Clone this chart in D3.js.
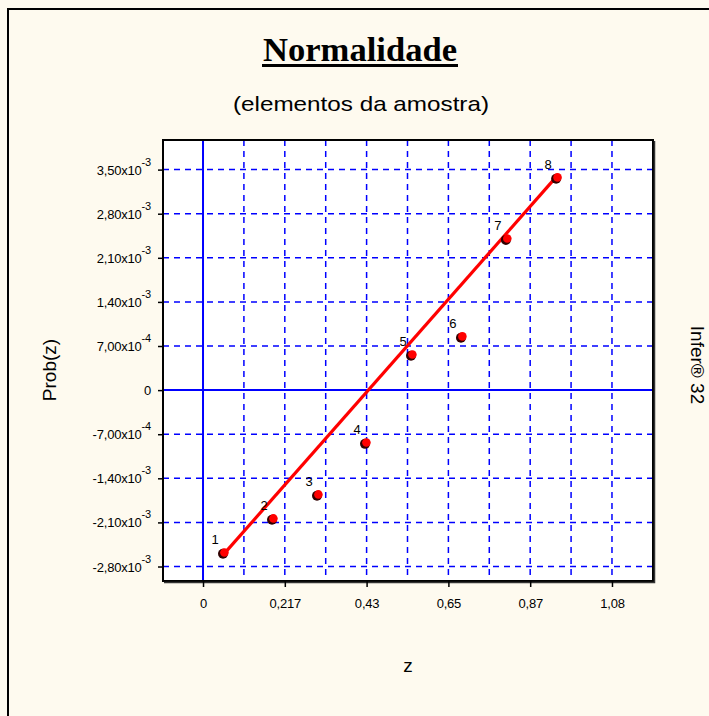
<!DOCTYPE html>
<html>
<head>
<meta charset="utf-8">
<script src="https://cdn.jsdelivr.net/npm/d3@7"></script>
<style>
html,body{margin:0;padding:0;background:#fefaef;}
svg{display:block;}
text{font-family:"Liberation Sans",Arial,sans-serif;fill:#000;}
</style>
</head>
<body>
<svg id="chart" width="709" height="716"></svg>
<script>
// ---- data ----
const pointIds = ["1","2","3","4","5","6","7","8"];
const zValues = [0.0556, 0.1854, 0.3046, 0.4318, 0.5536, 0.6860, 0.8050, 0.9380];
const probValues = [-0.002583, -0.002043, -0.001662, -0.000837, 0.000560, 0.000846, 0.002400, 0.003370];
const fitLineZ = [0.0556, 0.9380];
const fitLineProb = [-0.002600, 0.003400];
const xTickValues = [0, 0.21667, 0.43333, 0.65, 0.86667, 1.08333];
const xTickLabels = ["0", "0,217", "0,43", "0,65", "0,87", "1,08"];
const xMinorValues = [0.108333, 0.325, 0.541667, 0.758333, 0.975];
const yTickValues = [0.0035, 0.0028, 0.0021, 0.0014, 0.0007, 0, -0.0007, -0.0014, -0.0021, -0.0028];
const yTickMantissa = ["3,50x10", "2,80x10", "2,10x10", "1,40x10", "7,00x10", "0", "-7,00x10", "-1,40x10", "-2,10x10", "-2,80x10"];
const yTickExponent = ["-3", "-3", "-3", "-3", "-4", "", "-4", "-3", "-3", "-3"];

const svg = d3.select("#chart");
const W = 709, H = 716;
const plot = {left: 163, right: 653, top: 140, bottom: 581};

const x = d3.scaleLinear().domain([-0.106, 1.192]).range([plot.left, plot.right]);
const y = d3.scaleLinear().domain([-0.00303, 0.00397]).range([plot.bottom, plot.top]);

// background + outer frame
svg.append("rect").attr("width", W).attr("height", H).attr("fill", "#fefaef");
svg.append("path").attr("d", `M8,${H} L8,9 L${W},9`).attr("fill", "none")
  .attr("stroke", "#000").attr("stroke-width", 2);

// title
svg.append("text").attr("x", 360).attr("y", 61).attr("text-anchor", "middle")
  .style("font-family", "'Liberation Serif','Times New Roman',serif")
  .style("font-weight", "bold").style("font-size", "34px")
  .attr("textLength", 194).attr("lengthAdjust", "spacingAndGlyphs")
  .text("Normalidade");
svg.append("rect").attr("x", 262).attr("y", 64).attr("width", 196).attr("height", 3).attr("fill", "#000");

svg.append("text").attr("x", 361).attr("y", 111).attr("text-anchor", "middle")
  .style("font-size", "21px").attr("textLength", 256).attr("lengthAdjust", "spacingAndGlyphs")
  .text("(elementos da amostra)");

// plot area
svg.append("rect").attr("x", plot.left).attr("y", plot.top)
  .attr("width", plot.right - plot.left).attr("height", plot.bottom - plot.top)
  .attr("fill", "#ffffff");

const g = svg.append("g");
// vertical grid lines
const vGrid = xTickValues.concat(xMinorValues).filter(v => v !== 0);
g.selectAll("line.vg").data(vGrid).join("line").attr("class", "vg")
  .attr("x1", d => x(d)).attr("x2", d => x(d))
  .attr("y1", plot.top).attr("y2", plot.bottom)
  .attr("stroke", "#0000ff").attr("stroke-width", 1.5).attr("stroke-dasharray", "6,5");
// horizontal grid lines
g.selectAll("line.hg").data(yTickValues.filter(v => v !== 0)).join("line").attr("class", "hg")
  .attr("x1", plot.left).attr("x2", plot.right)
  .attr("y1", d => y(d)).attr("y2", d => y(d))
  .attr("stroke", "#0000ff").attr("stroke-width", 1.5).attr("stroke-dasharray", "6,5");
// zero lines
g.append("line").attr("x1", x(0)).attr("x2", x(0)).attr("y1", plot.top).attr("y2", plot.bottom)
  .attr("stroke", "#0000ff").attr("stroke-width", 2);
g.append("line").attr("x1", plot.left).attr("x2", plot.right).attr("y1", y(0)).attr("y2", y(0))
  .attr("stroke", "#0000ff").attr("stroke-width", 2);

// plot box border
svg.append("rect").attr("x", plot.left).attr("y", plot.top)
  .attr("width", plot.right - plot.left).attr("height", plot.bottom - plot.top)
  .attr("fill", "none").attr("stroke", "#000").attr("stroke-width", 2);
svg.append("path").attr("d", `M${plot.left+1},${plot.bottom+1.5} L${plot.right+1.5},${plot.bottom+1.5} L${plot.right+1.5},${plot.top+1}`)
  .attr("fill", "none").attr("stroke", "#333").attr("stroke-width", 1.5);

// x axis
const xAxis = d3.axisBottom(x).tickValues(xTickValues)
  .tickFormat((d, i) => xTickLabels[i]).tickSize(6).tickPadding(12);
const xa = svg.append("g").attr("transform", `translate(0,${plot.bottom})`).call(xAxis);
xa.select(".domain").remove();
xa.selectAll(".tick line").attr("stroke", "#000").attr("stroke-width", 1.5);
xa.selectAll(".tick text").style("font-size", "13px").style("font-family", "'Liberation Sans',Arial,sans-serif")
  .attr("fill", "#000").attr("letter-spacing", "-0.2");

// y axis
const yAxis = d3.axisLeft(y).tickValues(yTickValues).tickFormat("").tickSize(5);
const ya = svg.append("g").attr("transform", `translate(${plot.left},0)`).call(yAxis);
ya.select(".domain").remove();
ya.selectAll(".tick line").attr("stroke", "#000").attr("stroke-width", 1.5);
const yl = svg.append("g");
yTickValues.forEach((v, i) => {
  const t = yl.append("text").attr("x", 151).attr("y", y(v) + 5).attr("text-anchor", "end")
    .style("font-size", "13px").attr("letter-spacing", "-0.2");
  t.append("tspan").text(yTickMantissa[i]);
  if (yTickExponent[i]) {
    t.append("tspan").attr("dy", -9).style("font-size", "11px").text(yTickExponent[i]);
  }
});

// fit line
const line = d3.line().x(d => x(d[0])).y(d => y(d[1]));
svg.append("path").datum(fitLineZ.map((z, i) => [z, fitLineProb[i]]))
  .attr("d", line).attr("fill", "none").attr("stroke", "#ff0000").attr("stroke-width", 3.2);

// points
const pts = zValues.map((z, i) => ({z, p: probValues[i], id: pointIds[i]}));
svg.selectAll("circle.sh").data(pts).join("circle").attr("class", "sh")
  .attr("cx", d => x(d.z) - 1).attr("cy", d => y(d.p) + 1).attr("r", 5).attr("fill", "#300000");
svg.selectAll("circle.pt").data(pts).join("circle").attr("class", "pt")
  .attr("cx", d => x(d.z) + 0.4).attr("cy", d => y(d.p) - 0.4).attr("r", 4.3).attr("fill", "#ff0000");
svg.selectAll("text.lbl").data(pts).join("text").attr("class", "lbl")
  .attr("x", d => x(d.z) - 9).attr("y", d => y(d.p) - 9).attr("text-anchor", "middle")
  .style("font-size", "13px").text(d => d.id);

// axis titles
svg.append("text").attr("transform", "translate(56,370) rotate(-90)").attr("text-anchor", "middle")
  .style("font-size", "19px").text("Prob(z)");
svg.append("text").attr("x", 408).attr("y", 672).attr("text-anchor", "middle")
  .style("font-size", "19px").text("z");
svg.append("text").attr("transform", "translate(691,365) rotate(90)").attr("text-anchor", "middle")
  .style("font-size", "19px").text("Infer® 32");
</script>
</body>
</html>
